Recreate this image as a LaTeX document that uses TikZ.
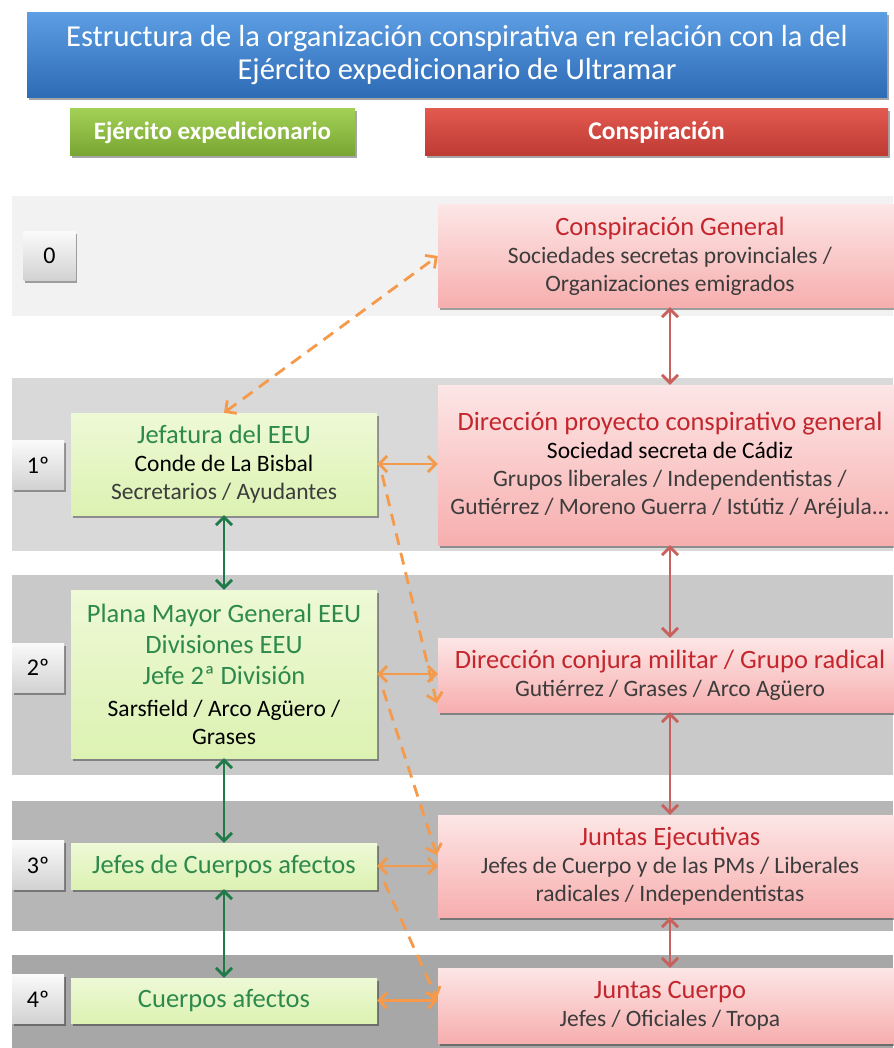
\documentclass[tikz,border=0pt]{standalone}
\usepackage{fontspec}
\setmainfont{Carlito}
\usetikzlibrary{arrows.meta,shadows}

% palette
\definecolor{bandA}{HTML}{F2F2F2}
\definecolor{bandB}{HTML}{D9D9D9}
\definecolor{bandC}{HTML}{C9C9C9}
\definecolor{bandD}{HTML}{B6B6B6}
\definecolor{bandE}{HTML}{A7A7A7}
\definecolor{blueTop}{HTML}{5C9DE3}
\definecolor{blueBot}{HTML}{2D6BB5}
\definecolor{grnHdTop}{HTML}{A2D055}
\definecolor{grnHdBot}{HTML}{78A532}
\definecolor{redHdTop}{HTML}{E2594F}
\definecolor{redHdBot}{HTML}{BD3A33}
\definecolor{grnBoxTop}{HTML}{EEF9D6}
\definecolor{grnBoxBot}{HTML}{DCF2B2}
\definecolor{redBoxTop}{HTML}{FDE6E6}
\definecolor{redBoxBot}{HTML}{F7AEAE}
\definecolor{lvlTop}{HTML}{FAFAFA}
\definecolor{lvlBot}{HTML}{D2D2D2}
\definecolor{redTxt}{HTML}{C3262D}
\definecolor{grnTxt}{HTML}{2E8A4C}
\definecolor{grayTxt}{HTML}{3C3C3C}
\definecolor{grnArrow}{HTML}{1E7B47}
\definecolor{redArrow}{HTML}{C9605C}
\definecolor{orangeArrow}{HTML}{F59A4A}

\newcommand{\hdfont}{\fontsize{26.5}{28}\selectfont}
\newcommand{\subfont}{\fontsize{23.5}{28}\selectfont}

\tikzset{
  boxshadow/.style={drop shadow={shadow xshift=1.5pt,shadow yshift=-2.5pt,opacity=0.35,fill=black}},
  titlebox/.style={rectangle,inner sep=0pt,top color=blueTop,bottom color=blueBot,
    boxshadow,text=white,align=center,font=\fontsize{30.5}{33}\selectfont},
  hdgreen/.style={rectangle,inner sep=0pt,top color=grnHdTop,bottom color=grnHdBot,
    boxshadow,text=white,font=\fontsize{25}{28}\selectfont\bfseries},
  hdred/.style={rectangle,inner sep=0pt,top color=redHdTop,bottom color=redHdBot,
    boxshadow,text=white,font=\fontsize{25.5}{28}\selectfont\bfseries},
  lvlbox/.style={rectangle,inner sep=0pt,minimum width=52pt,minimum height=49pt,
    top color=lvlTop,bottom color=lvlBot,boxshadow,font=\fontsize{24}{28}\selectfont},
  armybox/.style={rectangle,inner sep=0pt,minimum width=306pt,
    top color=grnBoxTop,bottom color=grnBoxBot,boxshadow,align=center,
    text=grnTxt,font=\hdfont},
  conbox/.style={rectangle,inner sep=0pt,minimum width=464pt,
    top color=redBoxTop,bottom color=redBoxBot,boxshadow,align=center,
    text=grayTxt,font=\subfont},
  arrowtips/.style={>={Straight Barb[length=8pt,width=16pt]}},
  garrow/.style={draw=grnArrow,line width=2.8pt,<->},
  rarrow/.style={draw=redArrow,line width=2.8pt,<->},
  oarrow/.style={draw=orangeArrow,line width=2.8pt,<->},
  odash/.style={draw=orangeArrow,line width=2.8pt,dash pattern=on 12pt off 8pt},
}

\begin{document}
\begin{tikzpicture}[x=1pt,y=-1pt,arrowtips]
\useasboundingbox (0,0) rectangle (893,1048);
\fill[white] (0,0) rectangle (893,1048);

% level bands
\fill[bandA] (12,196) rectangle (893,316);
\fill[bandB] (12,378) rectangle (893,551);
\fill[bandC] (12,575) rectangle (893,775);
\fill[bandD] (12,801) rectangle (893,931);
\fill[bandE] (12,955) rectangle (893,1048);

% headings
\node[titlebox,minimum width=860pt,minimum height=85pt] (title) at (457,55.5)
  {Estructura de la organización conspirativa en relación con la del\\Ejército expedicionario de Ultramar};
\node[hdgreen,minimum width=285pt,minimum height=47pt] (hdarmy) at (212.5,132.5) {Ejército expedicionario};
\node[hdred,minimum width=463pt,minimum height=47pt] (hdcons) at (656.5,132.5) {Conspiración};

% level markers
\node[lvlbox] (l0) at (49.5,256) {0};
\node[lvlbox] (l1) at (38,465) {1º};
\node[lvlbox] (l2) at (38,667.5) {2º};
\node[lvlbox] (l3) at (38,865) {3º};
\node[lvlbox] (l4) at (38,999) {4º};

% army column
\node[armybox,minimum height=102pt] (jef) at (224,464)
  {Jefatura del EEU\\{\subfont\color{black}Conde de La Bisbal}\\{\subfont\color{grayTxt}Secretarios / Ayudantes}};
\node[armybox,minimum height=168pt] (plana) at (224,674)
  {Plana Mayor General EEU\\[3pt]Divisiones EEU\\[3pt]Jefe 2ª División\\[4pt]{\subfont\color{black}Sarsfield / Arco Agüero /}\\{\subfont\color{black}Grases}};
\node[armybox,minimum height=46pt] (jefes) at (224,866) {Jefes de Cuerpos afectos};
\node[armybox,minimum height=45pt] (cuerpos) at (224,1000.5) {Cuerpos afectos};

% conspiracy column
\node[conbox,minimum height=102pt] (cgen) at (670,256)
  {{\hdfont\color{redTxt}Conspiración General}\\Sociedades secretas provinciales /\\Organizaciones emigrados};
\node[conbox,minimum height=160pt] (dproy) at (670,465)
  {{\hdfont\color{redTxt}Dirección proyecto conspirativo general}\\{\color{black}Sociedad secreta de Cádiz}\\Grupos liberales / Independentistas /\\Gutiérrez / Moreno Guerra / Istútiz / Aréjula...};
\node[conbox,minimum height=74pt] (dconj) at (670,675)
  {{\hdfont\color{redTxt}Dirección conjura militar / Grupo radical}\\Gutiérrez / Grases / Arco Agüero};
\node[conbox,minimum height=102pt] (jej) at (670,866)
  {{\hdfont\color{redTxt}Juntas Ejecutivas}\\Jefes de Cuerpo y de las PMs / Liberales\\radicales / Independentistas};
\node[conbox,minimum height=75pt] (jcu) at (670,1005.5)
  {{\hdfont\color{redTxt}Juntas Cuerpo}\\Jefes / Oficiales / Tropa};

% chain of command
\draw[garrow] (jef.south) -- (plana.north);
\draw[garrow] (plana.south) -- (jefes.north);
\draw[garrow] (jefes.south) -- (cuerpos.north);

\draw[rarrow] (cgen.south) -- (dproy.north);
\draw[rarrow] (dproy.south) -- (dconj.north);
\draw[rarrow] (dconj.south) -- (jej.north);
\draw[rarrow] (jej.south) -- (jcu.north);

% links between both structures
\draw[oarrow] (jef.east) -- (jef.east -| dproy.west);
\draw[oarrow] (plana.east) -- (plana.east -| dconj.west);
\draw[oarrow] (jefes.east) -- (jefes.east -| jej.west);
\draw[oarrow] (cuerpos.east) -- (cuerpos.east -| jcu.west);

\draw[odash,<->] (jef.north) -- (cgen.west);
\draw[odash,->] ([xshift=5pt,yshift=-11pt]jef.east) -- ([xshift=-1pt,yshift=9pt]dconj.south west);
\draw[odash,->] ([xshift=6pt,yshift=-16pt]plana.east) -- ([xshift=-1pt,yshift=11pt]jej.west);
\draw[odash,->] ([xshift=7pt,yshift=-16pt]jefes.east) -- ([xshift=-1pt,yshift=7pt]jcu.west);
\end{tikzpicture}
\end{document}
